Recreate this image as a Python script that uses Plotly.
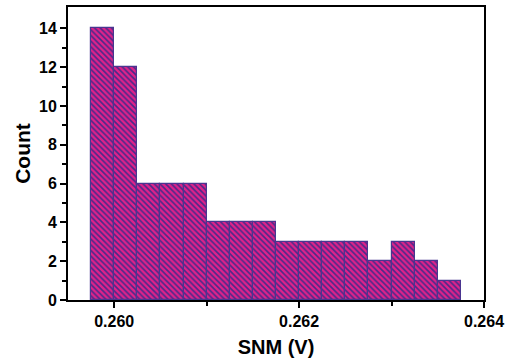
import plotly.graph_objects as go

# Data
bin_left = [0.25975, 0.26000, 0.26025, 0.26050, 0.26075, 0.26100, 0.26125, 0.26150,
            0.26175, 0.26200, 0.26225, 0.26250, 0.26275, 0.26300, 0.26325, 0.26350]
bin_width = 0.00025
counts = [14, 12, 6, 6, 6, 4, 4, 4, 3, 3, 3, 3, 2, 3, 2, 1]
x_ticks = [0.260, 0.262, 0.264]
x_tick_labels = ["0.260", "0.262", "0.264"]
y_ticks = [0, 2, 4, 6, 8, 10, 12, 14]

centers = [b + bin_width / 2 for b in bin_left]

fig = go.Figure()
fig.add_trace(go.Bar(
    x=centers, y=counts, width=[bin_width] * len(counts),
    marker=dict(
        color="#D8207F",
        line=dict(color="#4A3590", width=1.2),
        pattern=dict(shape="\\", fgcolor="#4A2A8A", bgcolor="#E0228A",
                     size=4, solidity=0.4, fillmode="replace"),
    ),
    showlegend=False,
))

font = "Liberation Sans, Arial, sans-serif"
fig.update_layout(
    width=514, height=360,
    margin=dict(l=68, r=30, t=5, b=57),
    paper_bgcolor="white", plot_bgcolor="white",
    font=dict(family=font, color="black"),
    bargap=0,
)
fig.update_xaxes(
    range=[0.2595, 0.264],
    tickvals=x_ticks, ticktext=x_tick_labels,
    tickfont=dict(size=16, family=font, weight="bold"),
    ticks="outside", ticklen=6, tickwidth=1.5, tickcolor="black",
    minor=dict(tickvals=[0.261, 0.263], ticks="outside", ticklen=4, tickwidth=1.5, tickcolor="black"),
    showline=True, linewidth=2, linecolor="black", mirror=True,
    showgrid=False, zeroline=False,
    title=dict(text="<b>SNM (V)</b>", font=dict(size=20, family=font), standoff=11),
)
fig.update_yaxes(
    range=[0, 15.1],
    tickvals=y_ticks,
    tickfont=dict(size=16, family=font, weight="bold"),
    ticks="outside", ticklen=6, tickwidth=1.5, tickcolor="black",
    minor=dict(tickvals=[1, 3, 5, 7, 9, 11, 13], ticks="outside", ticklen=4, tickwidth=1.5, tickcolor="black"),
    showline=True, linewidth=2, linecolor="black", mirror=True,
    showgrid=False, zeroline=False,
    title=dict(text="<b>Count</b>", font=dict(size=21, family=font), standoff=3),
)

fig.write_html("out.html")
